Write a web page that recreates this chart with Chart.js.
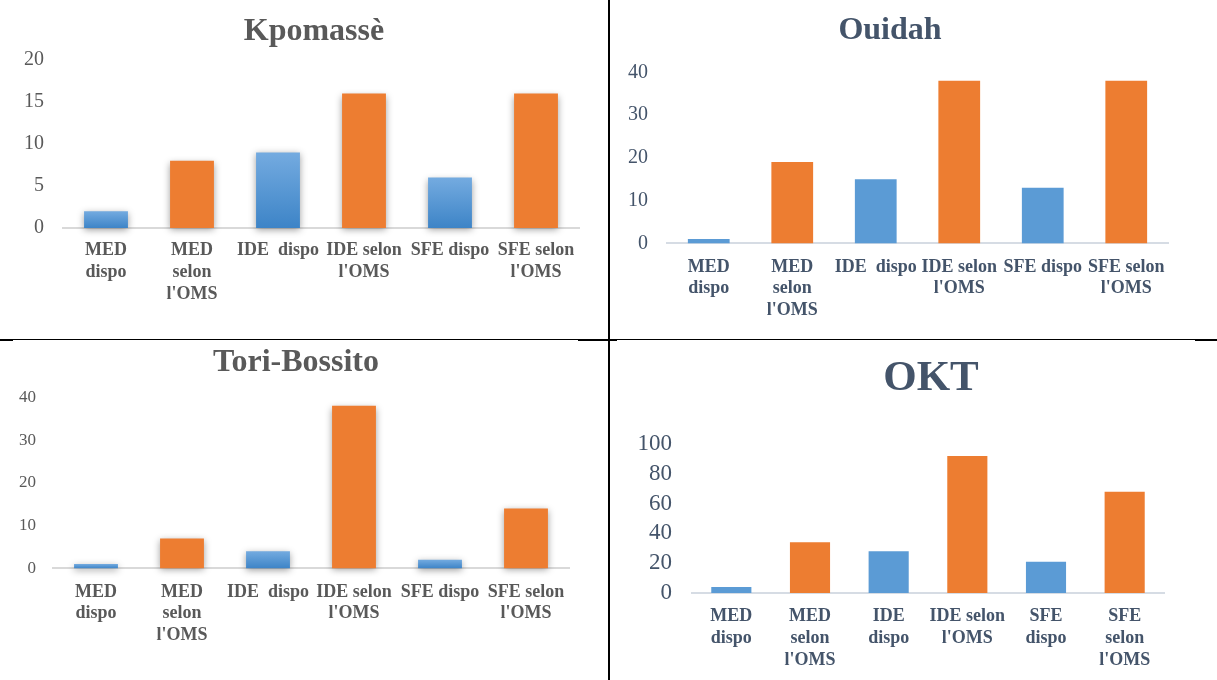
<!DOCTYPE html>
<html>
<head>
<meta charset="utf-8">
<title>Effectifs disponibles et normes de l'OMS</title>
<script src="https://cdn.jsdelivr.net/npm/chart.js@4/dist/chart.umd.min.js"></script>
<style>
  html, body { margin: 0; padding: 0; background: #fff; }
  #page { position: relative; width: 1217px; height: 680px; overflow: hidden; background: #fff; }
  #page canvas { position: absolute; }
  .rule { position: absolute; background: #000; }
</style>
</head>
<body>
<div id="page">
  <canvas id="kpomasse" width="620" height="338" style="left:0px;top:0px"></canvas>
  <canvas id="ouidah" width="606" height="338" style="left:611px;top:0px"></canvas>
  <canvas id="toriBossito" width="607" height="339" style="left:0px;top:341px"></canvas>
  <canvas id="okt" width="626" height="339" style="left:611px;top:341px"></canvas>

  <!-- table rules separating the four panels -->
  <div class="rule" style="left:608px;top:0px;width:2px;height:680px"></div>
  <div class="rule" style="left:0px;top:339px;width:1217px;height:1px"></div>
  <div class="rule" style="left:0px;top:339px;width:13px;height:2px"></div>
  <div class="rule" style="left:578px;top:339px;width:39px;height:2px"></div>
  <div class="rule" style="left:1195px;top:339px;width:22px;height:2px"></div>
</div>

<script>
// Categories (multi-line labels)
const categories = [["MED", "dispo"], ["MED", "selon", "l'OMS"], ["IDE  dispo"], ["IDE selon", "l'OMS"], ["SFE dispo"], ["SFE selon", "l'OMS"]];
const oktCategories = [["MED", "dispo"], ["MED", "selon", "l'OMS"], ["IDE", "dispo"], ["IDE selon", "l'OMS"], ["SFE", "dispo"], ["SFE", "selon", "l'OMS"]];
// dispo = available staff, oms = WHO norm
const barKinds = ["dispo", "oms", "dispo", "oms", "dispo", "oms"];

// Staff counts per commune
const kpomasseValues = [2, 8, 9, 16, 6, 16];
const ouidahValues = [1, 19, 15, 38, 13, 38];
const toriBossitoValues = [1, 7, 4, 38, 2, 14];
const oktValues = [4, 34, 28, 92, 21, 68];

// Value-axis ticks
const kpomasseTicks = [0, 5, 10, 15, 20];
const ouidahTicks = [0, 10, 20, 30, 40];
const toriBossitoTicks = [0, 10, 20, 30, 40];
const oktTicks = [0, 20, 40, 60, 80, 100];

const SERIF = "'Liberation Serif', 'Times New Roman', serif";
const BLUE = '#5b9bd5';
const ORANGE = '#ed7d31';
const GREY_INK = '#595959';
const SLATE_INK = '#44546a';

// Soft drop shadow under the bars of the shaded panels
const barShadow = {
  id: 'barShadow',
  beforeDatasetsDraw(chart) {
    const c = chart.ctx;
    c.save();
    c.shadowColor = 'rgba(0,0,0,0.38)';
    c.shadowBlur = 7;
    c.shadowOffsetX = 0;
    c.shadowOffsetY = 2;
  },
  afterDatasetsDraw(chart) {
    chart.ctx.restore();
  }
};

// Vertical gradient fill for a single blue bar (light at the top, darker at the base)
function shadedBlue(ctx) {
  const chart = ctx.chart;
  const y = chart.scales && chart.scales.y;
  if (!chart.chartArea || !y || ctx.raw == null) return BLUE;
  const top = y.getPixelForValue(ctx.raw);
  const base = y.getPixelForValue(0);
  if (!isFinite(top) || !isFinite(base) || top === base) return BLUE;
  const g = chart.ctx.createLinearGradient(0, top, 0, base);
  g.addColorStop(0, '#74abe0');
  g.addColorStop(1, '#3d84c7');
  return g;
}

function drawPanel(canvasId, p) {
  const ticks = p.ticks;
  new Chart(document.getElementById(canvasId), {
    type: 'bar',
    data: {
      labels: p.labels,
      datasets: [{
        data: p.values,
        backgroundColor: (ctx) => barKinds[ctx.dataIndex] === 'oms' ? ORANGE : (p.shaded ? shadedBlue(ctx) : BLUE),
        borderWidth: 0,
        barPercentage: p.barPct,
        categoryPercentage: 1,
        clip: false
      }]
    },
    options: {
      responsive: false,
      animation: false,
      devicePixelRatio: 1,
      layout: { padding: p.pad },
      plugins: {
        legend: { display: false },
        tooltip: { enabled: false },
        title: {
          display: true,
          text: p.title,
          color: p.ink,
          font: { family: SERIF, size: p.titleSize, weight: 'bold', lineHeight: 1.2 },
          padding: { top: p.titlePad[0], bottom: p.titlePad[1] }
        }
      },
      scales: {
        x: {
          z: 1,
          grid: { display: false, drawTicks: false },
          border: { display: true, color: p.axisColor, width: 2 },
          afterFit: (s) => { s.height = p.xHeight; },
          ticks: {
            color: p.ink,
            padding: p.xPad,
            autoSkip: false,
            maxRotation: 0,
            font: { family: SERIF, size: 18, weight: 'bold', lineHeight: 1.2 }
          }
        },
        y: {
          min: ticks[0],
          max: ticks[ticks.length - 1],
          grid: { display: false, drawTicks: false },
          border: { display: false },
          afterFit: (s) => { s.width = p.yWidth; },
          ticks: {
            stepSize: ticks[1] - ticks[0],
            autoSkip: false,
            color: p.ink,
            padding: p.yPad,
            font: { family: SERIF, size: p.tickSize }
          }
        },
        // empty right-hand gutter that keeps the title centred where it belongs
        gutter: {
          type: 'linear',
          position: 'right',
          display: p.gutter > 0,
          grid: { display: false, drawTicks: false },
          border: { display: false },
          ticks: { display: false },
          afterFit: (s) => { s.width = p.gutter; }
        }
      }
    },
    plugins: p.shaded ? [barShadow] : []
  });
}

drawPanel('kpomasse', {
  title: 'Kpomassè', labels: categories, values: kpomasseValues, ticks: kpomasseTicks,
  ink: GREY_INK, axisColor: '#d9d9d9', shaded: true, barPct: 0.51,
  pad: { left: 15, right: 7, top: 0, bottom: 10 },
  titleSize: 32, titlePad: [12.3, 9.3],
  xHeight: 100, xPad: 12, yWidth: 48, gutter: 34, yPad: 19, tickSize: 20
});

drawPanel('ouidah', {
  title: 'Ouidah', labels: categories, values: ouidahValues, ticks: ouidahTicks,
  ink: SLATE_INK, axisColor: '#d6dce4', shaded: false, barPct: 0.5,
  pad: { left: 1, right: 49, top: 0, bottom: 9.7 },
  titleSize: 32, titlePad: [11.5, 22.4],
  xHeight: 85, xPad: 12.8, yWidth: 55, gutter: 0, yPad: 19, tickSize: 20
});

drawPanel('toriBossito', {
  title: 'Tori-Bossito', labels: categories, values: toriBossitoValues, ticks: toriBossitoTicks,
  ink: GREY_INK, axisColor: '#d9d9d9', shaded: true, barPct: 0.51,
  pad: { left: 9, right: 24, top: 0, bottom: 11.7 },
  titleSize: 32, titlePad: [2.8, 15.1],
  xHeight: 100, xPad: 12.8, yWidth: 44, gutter: 14, yPad: 17, tickSize: 17
});

drawPanel('okt', {
  title: 'OKT', labels: oktCategories, values: oktValues, ticks: oktTicks,
  ink: SLATE_INK, axisColor: '#d6dce4', shaded: false, barPct: 0.51,
  pad: { left: 19, right: 5, top: 0, bottom: 7 },
  titleSize: 43, titlePad: [12.5, 38.9],
  xHeight: 80, xPad: 13, yWidth: 62, gutter: 68, yPad: 20, tickSize: 23
});
</script>
</body>
</html>
